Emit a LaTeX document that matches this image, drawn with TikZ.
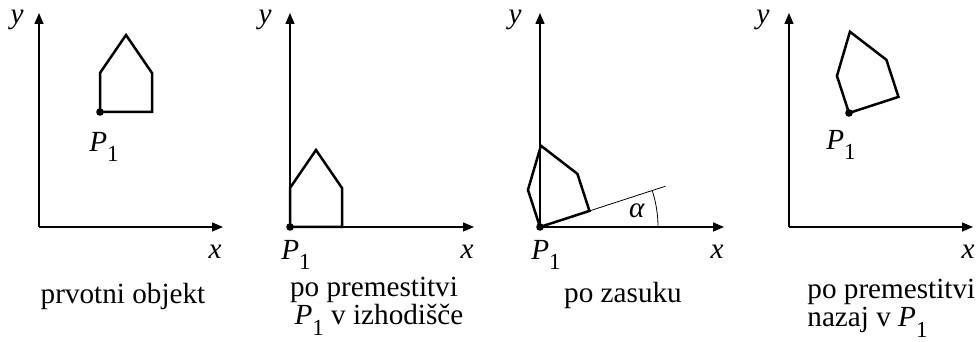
\documentclass[tikz,border=0pt]{standalone}
\usepackage{fontspec}
\setmainfont{Liberation Serif}
\usetikzlibrary{arrows.meta}

\newcommand{\Pena}{\textit{P}\raisebox{-0.8ex}{\fontsize{11.5}{11.5}\selectfont 1}}
\tikzset{
  axis/.style={-{Triangle[length=5.5pt,width=4.5pt]}, line width=0.65pt},
  obj/.style={line width=1.25pt, line join=miter},
  dot/.style={circle, fill, inner sep=0pt, minimum size=3.8pt},
  lbl/.style={font=\fontsize{14.6}{14}\selectfont},
  hisa/.pic={\draw[obj] (0,0) -- (52,0) -- (52,39) -- (26,77) -- (0,39) -- cycle;}
}

\begin{document}
\begin{tikzpicture}[x=0.5pt, y=0.5pt]
  \useasboundingbox (0,0) rectangle (976,342);
  % origins of the four panels
  \coordinate (O1) at (39,115);
  \coordinate (O2) at (290,115);
  \coordinate (O3) at (540,115);
  \coordinate (O4) at (789,115);
  % axes
  \foreach \i in {1,...,4} {
    \draw[axis] (O\i) -- ++(0,214);
    \draw[axis] (O\i) -- ++(184,0);
  }
  \node[lbl] (y1) at (17,322) {\textit{y}};
  \node[lbl] (x1) at (215,90) {\textit{x}};
  \node[lbl] (y2) at (265,322) {\textit{y}};
  \node[lbl] (x2) at (467,90) {\textit{x}};
  \node[lbl] (y3) at (515,322) {\textit{y}};
  \node[lbl] (x3) at (717,90) {\textit{x}};
  \node[lbl] (y4) at (763,322) {\textit{y}};
  \node[lbl] (x4) at (968,90) {\textit{x}};

  % prvotni objekt
  \pic at (100,230) {hisa};
  \node[dot] (P1a) at (100,230) {};
  \node[lbl] at (104,195) {\Pena};
  \node[lbl, anchor=base] at (123,38) {prvotni objekt};

  % premik v izhodisce
  \pic at (O2) {hisa};
  \node[dot] (P1b) at (O2) {};
  \node[lbl] at (296,87) {\Pena};
  \node[lbl, anchor=base] (c2a) at (374,45) {po premestitvi};
  \node[lbl, anchor=base] (c2b) at (379,17) {\Pena{} v izhodišče};

  % zasuk za kot alfa
  \pic[rotate=18] at (O3) {hisa};
  \draw[line width=0.4pt] (O3) -- ++(18:132) coordinate (A3);
  \draw[line width=0.4pt] (O3) ++(118,0) arc[start angle=0, end angle=18, radius=118];
  \node[dot] (P1c) at (O3) {};
  \node[lbl] (alfa) at (637,131) {\textit{α}};
  \node[lbl] at (546,87) {\Pena};
  \node[lbl, anchor=base] at (623,39) {po zasuku};

  % premik nazaj
  \pic[rotate=18] at (849,229) {hisa};
  \node[dot] (P1d) at (849,229) {};
  \node[lbl] at (841,197) {\Pena};
  \node[lbl, anchor=base west, inner sep=0pt] (c4a) at (807,43) {po premestitvi};
  \node[lbl, anchor=base west, inner sep=0pt] (c4b) at (807,15) {nazaj v \Pena};
\end{tikzpicture}
\end{document}
